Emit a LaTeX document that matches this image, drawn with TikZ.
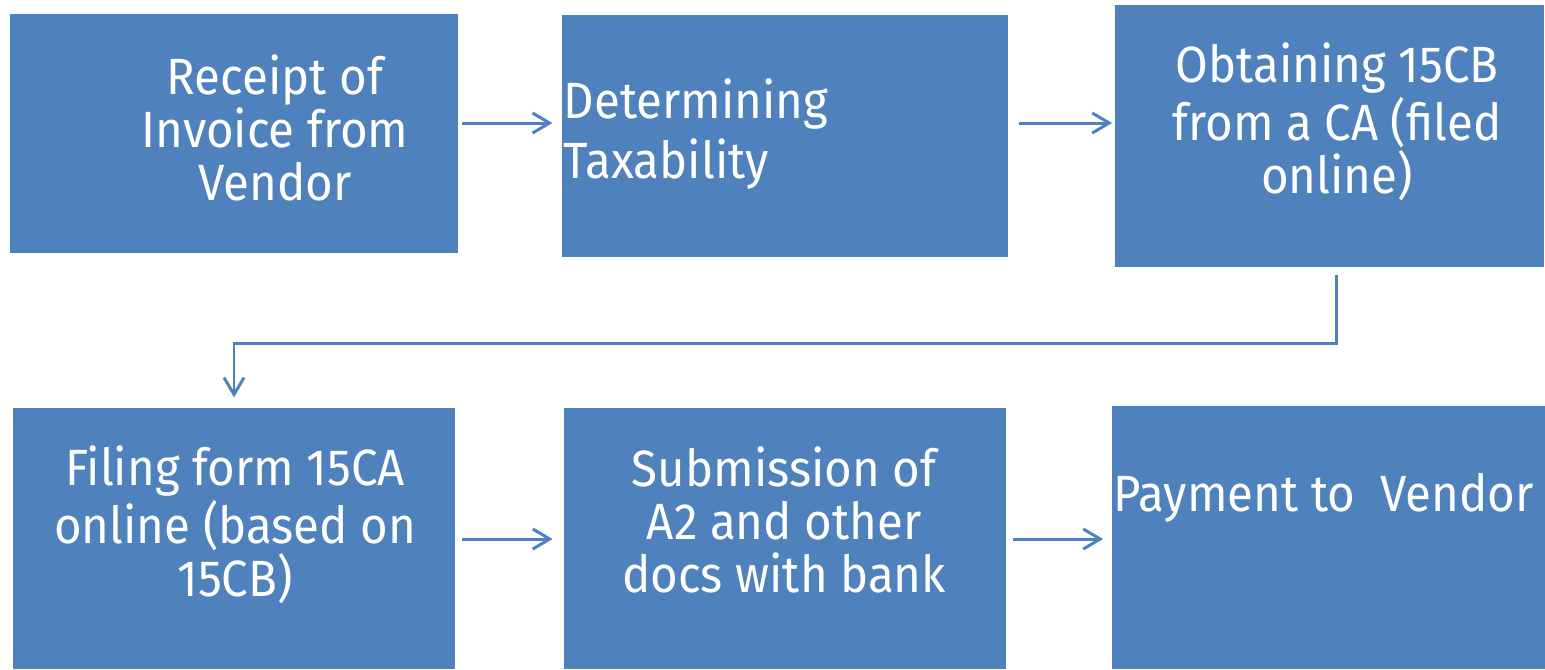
\documentclass[tikz,border=0pt]{standalone}
\usepackage{fontspec}
\setmainfont[FakeStretch=0.93]{Fira Sans}
\usepackage{xcolor}
\usetikzlibrary{positioning,calc,arrows.meta}
\definecolor{boxblue}{HTML}{4F81BD}

\begin{document}
\begin{tikzpicture}[x=0.01cm, y=-0.01cm,
    stage/.style={draw=none, fill=boxblue, rectangle, inner sep=0pt},
    caption/.style={text=white, inner sep=0pt, font=\fontsize{14.5pt}{15.1pt}\selectfont},
    flow/.style={draw=boxblue, line width=0.85pt, -{Straight Barb[length=4.8pt, width=5.7pt]}}
]
    \useasboundingbox (0,0) rectangle (1545,669);

    % Top row
    \node [stage, minimum width=4.48cm, minimum height=2.39cm] (receipt) at (234,133.5) {};
    \node [stage, minimum width=4.46cm, minimum height=2.42cm] (taxability) at (785,136) {};
    \node [stage, minimum width=4.29cm, minimum height=2.62cm] (obtain) at (1329.5,136) {};

    % Bottom row
    \node [stage, minimum width=4.42cm, minimum height=2.61cm] (filing) at (234,538.5) {};
    \node [stage, minimum width=4.42cm, minimum height=2.61cm] (submission) at (785,538.5) {};
    \node [stage, minimum width=4.33cm, minimum height=2.63cm] (payment) at (1328.5,537.5) {};

    % Texts
    \node [caption, align=center] (receipt text) at (275,128) {Receipt of\\Invoice from\\Vendor};
    \node [caption, align=left, anchor=west, font=\fontsize{14.5pt}{17.1pt}\selectfont] (taxability text) at (563,134) {Determining\\Taxability};
    \node [caption, align=center] (obtain text) at (1337,122) {Obtaining 15CB\\from a CA (filed\\online)};
    \node [caption, align=center] (filing text) at (235,525) {Filing form 15CA\\online (based on\\15CB)};
    \node [caption, align=center] (submission text) at (784,520) {Submission of\\A2 and other\\docs with bank};
    \node [caption, anchor=base west] (payment text) at (1113,511) {Payment to\ \ Vendor};

    % Connectors
    \coordinate (row1) at (0,123);
    \coordinate (row2) at (0,539);
    \coordinate (turn) at (1336,343);
    \draw [flow, shorten <=0.85pt, shorten >=2.5pt] (receipt.east |- row1) -- (taxability.west |- row1);
    \draw [flow, shorten <=2.8pt, shorten >=0.6pt] (taxability.east |- row1) -- (obtain.west |- row1);
    \draw [flow, shorten <=2pt, shorten >=2.8pt] (obtain.south -| turn) -- (turn) -| (filing.north);
    \draw [flow, shorten <=1.7pt, shorten >=3pt] (filing.east |- row2) -- (submission.west |- row2);
    \draw [flow, shorten <=1.7pt, shorten >=2.3pt] (submission.east |- row2) -- (payment.west |- row2);
\end{tikzpicture}
\end{document}
